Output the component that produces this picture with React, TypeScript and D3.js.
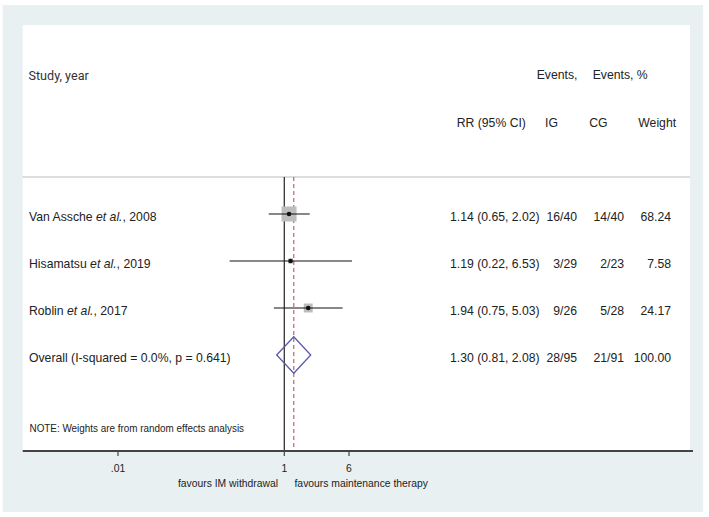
import React from "react";
import * as d3 from "d3";

const studyNames = ["Van Assche", "Hisamatsu", "Roblin"];
const studyYears = ["2008", "2019", "2017"];
const rr = [1.14, 1.19, 1.94];
const ciLow = [0.65, 0.22, 0.75];
const ciHigh = [2.02, 6.53, 5.03];
const eventsIG = ["16/40", "3/29", "9/26"];
const eventsCG = ["14/40", "2/23", "5/28"];
const weights = [68.24, 7.58, 24.17];

const overallLabel = "Overall (I-squared = 0.0%, p = 0.641)";
const overallRR = 1.3;
const overallLow = 0.81;
const overallHigh = 2.08;
const overallIG = "28/95";
const overallCG = "21/91";
const overallWeight = 100.0;

const tickValues = [0.01, 1, 6];
const tickLabels = [".01", "1", "6"];

const fmt2 = d3.format(".2f");

const FONT = "'Liberation Sans', Arial, Helvetica, sans-serif";

function T(props: any) {
  const { x, y, anchor = "start", size = 13, sx = 0.94, family = FONT, fill = "#222", children, weight } = props;
  return (
    <text
      transform={`translate(${x},${y}) scale(${sx},1)`}
      textAnchor={anchor}
      fontSize={size}
      fontFamily={family}
      fontWeight={weight}
      fill={fill}
    >
      {children}
    </text>
  );
}

export default function App() {
  const W = 709;
  const H = 517;
  const x = d3.scaleLog().domain([0.01, 1]).range([118, 284.3]);
  const allRows = studyNames.length + 1;
  const y = d3.scaleLinear().domain([0, allRows - 1]).range([214, 355]);
  const sq = d3.scaleSqrt().domain([0, 100]).range([0, 18.2]);

  const panelL = 22.7;
  const panelR = 690;
  const panelT = 25;
  const axisY = 451;
  const sepY = 177;

  const colRR = 450;
  const colIG = 577;
  const colCG = 624;
  const colW = 671;

  const ciStr = (r: number, l: number, h: number) => `${fmt2(r)} (${fmt2(l)}, ${fmt2(h)})`;

  const dx = 7;

  return (
    <svg width={W} height={H} style={{ position: "absolute", left: 0, top: 0, background: "#fff" }}>
      <rect x={2.7} y={5} width={700.5} height={507} fill="#e9f0f2" />
      <rect x={panelL} y={panelT} width={panelR - panelL} height={axisY - panelT} fill="#fff" />

      {/* headers */}
      <T x={28.5} y={80} family="Roboto, 'Open Sans', sans-serif" sx={0.97} fill="#333">Study, year</T>
      <T x={536.7} y={79}>Events,</T>
      <T x={592.7} y={79}>Events, %</T>
      <T x={456.7} y={127}>RR (95% CI)</T>
      <T x={545} y={127}>IG</T>
      <T x={589.3} y={127}>CG</T>
      <T x={638.3} y={127}>Weight</T>

      <line x1={panelL} x2={panelR} y1={sepY} y2={sepY} stroke="#cfd3d5" strokeWidth={1.6} />

      {/* reference lines */}
      <line x1={x(1)} x2={x(1)} y1={sepY} y2={axisY} stroke="#333" strokeWidth={1.3} />
      <line
        x1={x(overallRR)}
        x2={x(overallRR)}
        y1={sepY}
        y2={axisY}
        stroke="#c8606a"
        strokeWidth={1.2}
        strokeDasharray="4,3"
      />

      {/* studies */}
      {studyNames.map((name, i) => {
        const cy = y(i);
        const s = sq(weights[i]);
        return (
          <g key={name}>
            <T x={29} y={cy + dx}>
              {name} <tspan fontStyle="italic">et al.</tspan>, {studyYears[i]}
            </T>
            <rect x={x(rr[i]) - s / 2} y={cy - s / 2} width={s} height={s} fill="#bdbdbd" />
            <line x1={x(ciLow[i])} x2={x(ciHigh[i])} y1={cy} y2={cy} stroke="#111" strokeWidth={1.2} />
            <circle cx={x(rr[i])} cy={cy} r={2.3} fill="#111" />
            <T x={colRR} y={cy + dx}>{ciStr(rr[i], ciLow[i], ciHigh[i])}</T>
            <T x={colIG} y={cy + dx} anchor="end">{eventsIG[i]}</T>
            <T x={colCG} y={cy + dx} anchor="end">{eventsCG[i]}</T>
            <T x={colW} y={cy + dx} anchor="end">{fmt2(weights[i])}</T>
          </g>
        );
      })}

      {/* overall */}
      {(() => {
        const cy = y(allRows - 1);
        const hh = 18.3;
        const pts = [
          [x(overallLow), cy],
          [x(overallRR), cy - hh],
          [x(overallHigh), cy],
          [x(overallRR), cy + hh],
        ];
        return (
          <g>
            <T x={29} y={cy + dx}>{overallLabel}</T>
            <polygon points={pts.map((p) => p.join(",")).join(" ")} fill="none" stroke="#5a5aa8" strokeWidth={1.3} />
            <T x={colRR} y={cy + dx}>{ciStr(overallRR, overallLow, overallHigh)}</T>
            <T x={colIG} y={cy + dx} anchor="end">{overallIG}</T>
            <T x={colCG} y={cy + dx} anchor="end">{overallCG}</T>
            <T x={colW} y={cy + dx} anchor="end">{fmt2(overallWeight)}</T>
          </g>
        );
      })()}

      <T x={29.5} y={432} size={11} sx={0.9}>NOTE: Weights are from random effects analysis</T>

      {/* axis */}
      <line x1={panelL} x2={panelR + 3} y1={axisY} y2={axisY} stroke="#444" strokeWidth={1.8} />
      {tickValues.map((t, i) => (
        <g key={t}>
          <line x1={x(t)} x2={x(t)} y1={axisY} y2={axisY + 5} stroke="#444" strokeWidth={1.2} />
          <T x={x(t)} y={axisY + 21} anchor="middle" size={11.5} sx={0.9}>{tickLabels[i]}</T>
        </g>
      ))}
      <T x={278} y={487} anchor="end" size={11.5} sx={0.9}>favours IM withdrawal</T>
      <T x={294.5} y={487} size={11.5} sx={0.9}>favours  maintenance therapy</T>
    </svg>
  );
}
